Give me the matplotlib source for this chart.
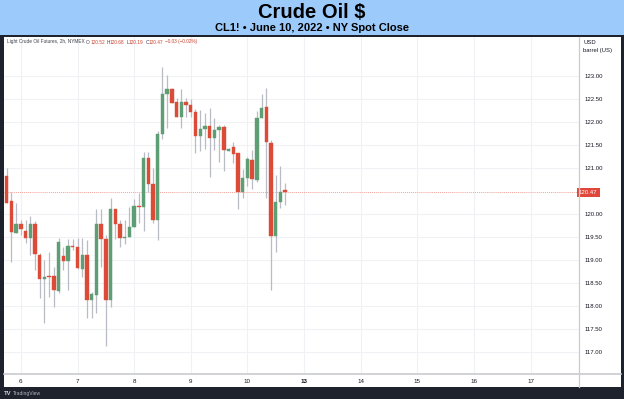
import matplotlib
matplotlib.use("Agg")
import matplotlib.pyplot as plt
from matplotlib.patches import Rectangle
from matplotlib.lines import Line2D
import numpy as np

# ---------------- data ----------------
opens  = [120.83, 120.28, 119.58, 119.78, 119.62, 119.48, 119.78, 119.11, 118.59, 118.64,
          118.65, 118.33, 119.09, 118.98, 119.30, 119.28, 118.81, 119.11, 118.12, 118.24,
          119.78, 119.46, 118.12, 120.11, 119.78, 119.47, 119.51, 119.72, 120.18, 120.16,
          121.21, 120.65, 119.88, 121.75, 122.60, 122.71, 122.43, 122.10, 122.43, 122.38,
          122.22, 121.70, 121.85, 121.92, 121.65, 121.82, 121.89, 121.38, 121.45, 121.32,
          120.48, 120.79, 121.17, 120.74, 122.09, 122.33, 121.54, 119.53, 120.27, 120.52]
highs  = [120.99, 120.48, 120.23, 119.88, 119.87, 119.96, 119.85, 119.15, 119.00, 119.18,
          118.85, 119.47, 119.29, 119.45, 119.45, 119.47, 119.47, 119.43, 118.30, 120.11,
          120.11, 119.54, 120.35, 120.11, 119.88, 119.87, 120.16, 120.32, 120.45, 121.35,
          121.35, 121.01, 121.80, 123.19, 123.02, 122.75, 122.52, 122.71, 122.52, 122.49,
          122.28, 122.26, 122.20, 122.30, 122.08, 121.93, 121.93, 121.43, 121.57, 121.32,
          120.97, 121.23, 121.39, 122.24, 122.61, 122.75, 121.61, 120.85, 121.04, 120.68]
lows   = [120.25, 118.96, 119.58, 119.54, 119.36, 119.11, 118.78, 118.17, 117.62, 118.20,
          117.97, 118.28, 118.78, 118.35, 119.22, 118.80, 118.64, 117.75, 117.73, 117.84,
          118.85, 117.13, 117.97, 119.46, 119.29, 119.35, 119.50, 119.72, 119.80, 119.62,
          120.48, 119.80, 119.43, 121.63, 121.86, 122.41, 122.10, 121.86, 122.10, 122.10,
          121.33, 121.38, 121.41, 120.80, 121.39, 121.14, 120.94, 121.38, 121.10, 120.10,
          120.34, 120.61, 120.54, 120.70, 122.09, 120.34, 118.35, 119.18, 120.12, 120.19]
closes = [120.25, 119.60, 119.78, 119.67, 119.48, 119.78, 119.12, 118.59, 118.64, 118.62,
          118.35, 119.39, 118.97, 119.30, 119.28, 118.82, 119.11, 118.12, 118.26, 119.78,
          119.46, 118.12, 120.11, 119.78, 119.47, 119.51, 119.72, 120.18, 120.15, 121.21,
          120.65, 119.86, 121.74, 122.60, 122.71, 122.41, 122.10, 122.43, 122.38, 122.22,
          121.70, 121.85, 121.92, 121.65, 121.82, 121.89, 121.39, 121.41, 121.30, 120.48,
          120.79, 121.19, 120.76, 122.09, 122.31, 121.56, 119.53, 120.27, 120.48, 120.47]

day_labels = ["6", "7", "8", "9", "10", "13", "14", "15", "16", "17"]
day_bar_index = [3, 15, 27, 39, 51, 63, 75, 87, 99, 111]
price_ticks = [117.0, 117.5, 118.0, 118.5, 119.0, 119.5, 120.0,
               121.0, 121.5, 122.0, 122.5, 123.0]
last_price = 120.47

legend_name = "Light Crude Oil Futures, 2h, NYMEX"
legend_fields = [("O", "120.52"), ("H", "120.68"), ("L", "120.19"), ("C", "120.47")]
legend_change = "\u22120.03 (\u22120.02%)"

title = "Crude Oil $"
subtitle = "CL1! \u2022 June 10, 2022 \u2022 NY Spot Close"

# ---------------- styles ----------------
W, H = 624, 399
UP = "#5d9e74"
DOWN = "#dc4a38"
WICK = "#b9bcc4"
DARK = "#1e222d"
BAND = "#9ccbfb"
FONT = "Liberation Sans"

def fx(x):
    return x / W

def fy(y):
    return 1 - y / H

fig = plt.figure(figsize=(W / 100, H / 100), dpi=100, facecolor=DARK)

# title band
fig.patches.append(Rectangle((0, fy(35)), 1, 1 - fy(35), transform=fig.transFigure,
                             facecolor=BAND, edgecolor="none", zorder=-5))
# white chart panel
fig.patches.append(Rectangle((fx(3.5), fy(387)), fx(620.5) - fx(3.5), fy(36.5) - fy(387),
                             transform=fig.transFigure, facecolor="white",
                             edgecolor="none", zorder=-5))

fig.text(0.5, fy(12), title, ha="center", va="center", fontsize=14.5,
         fontweight="bold", family=FONT, color="black")
fig.text(0.5, fy(28), subtitle, ha="center", va="center", fontsize=8,
         fontweight="bold", family=FONT, color="black")

# plot axes
left, right, top, bottom = 3.5, 579, 37, 373
ax = fig.add_axes([fx(left), fy(bottom), fx(right) - fx(left), fy(top) - fy(bottom)])
ax.set_zorder(1)
ax.set_facecolor("white")

x_step = 4.72
x0_px = 6.7
ax.set_xlim((left - x0_px) / x_step, (right - x0_px) / x_step)
y_per = 46.0
ax.set_ylim(120 + (214 - bottom) / y_per, 120 + (214 - top) / y_per)

idx = np.arange(len(opens))
o = np.array(opens); c = np.array(closes); h = np.array(highs); l = np.array(lows)
up = c >= o
colors = np.where(up, UP, DOWN)
body_bottom = np.minimum(o, c)
body_h = np.maximum(np.abs(c - o), 0.025)

ax.vlines(idx, l, h, color=WICK, linewidth=0.9, zorder=2)
ax.bar(idx, body_h, bottom=body_bottom, width=0.72, color=colors,
       edgecolor=colors, linewidth=0.3, zorder=3)

# last price line
ax.axhline(last_price, color="#f3a29a", linewidth=0.7, linestyle=(0, (1, 1)), zorder=1)

# grid & ticks
ax.set_yticks(price_ticks)
ax.set_yticklabels([f"{p:.2f}" for p in price_ticks])
ax.yaxis.tick_right()
ax.set_xticks(day_bar_index)
ax.set_xticklabels(day_labels)
ax.tick_params(axis="y", length=0, pad=4, labelsize=4.3, labelcolor="#131722")
ax.tick_params(axis="x", length=0, pad=4.2, labelsize=4.5, labelcolor="#131722")
for lab in ax.get_xticklabels():
    lab.set_family(FONT)
    if lab.get_text() == "13":
        lab.set_fontweight("semibold")
for lab in ax.get_yticklabels():
    lab.set_family(FONT)
ax.grid(True, color="#f0f1f4", linewidth=0.8, zorder=0)
ax.set_axisbelow(True)
for s in ax.spines.values():
    s.set_visible(False)

# separators
fig.add_artist(Line2D([fx(579), fx(579)], [fy(387), fy(37)], color="#c9cbcf",
                      linewidth=0.9, transform=fig.transFigure, zorder=2))
fig.add_artist(Line2D([fx(3.5), fx(620.5)], [fy(373.5), fy(373.5)], color="#c9cbcf",
                      linewidth=1.2, transform=fig.transFigure, zorder=2))

# last price tag
ax.text(1.0, last_price, f"{last_price:.2f}", transform=ax.get_yaxis_transform(),
        ha="left", va="center", fontsize=4.3, color="white", family=FONT,
        clip_on=False, zorder=10,
        bbox=dict(boxstyle="square,pad=0.35", facecolor="#e0473a", edgecolor="none"))

# units
fig.text(fx(583), fy(42), "USD", ha="left", va="center", fontsize=4.2,
         color="#131722", family=FONT, zorder=3)
fig.text(fx(583), fy(50.5), "barrel (US)", ha="left", va="center", fontsize=4.2,
         color="#131722", family=FONT, zorder=3)

# legend line (drawn consecutively)
fig.canvas.draw()
renderer = fig.canvas.get_renderer()
cur_x = 7.0
ly = fy(42)

def put(txt, color, gap=0.0):
    global cur_x
    t = fig.text(fx(cur_x), ly, txt, ha="left", va="center", fontsize=3.45,
                 color=color, family=FONT, zorder=3)
    bb = t.get_window_extent(renderer=renderer)
    cur_x += bb.width + gap

put(legend_name, "#3a3e4a", gap=1.6)
for k, v in legend_fields:
    put(k, "#3a3e4a", gap=0.2)
    put(v, "#c9402f", gap=1.6)
put(legend_change, "#c9402f")

# footer logo
fig.text(fx(4), fy(393.5), "TV", ha="left", va="center", fontsize=4.2,
         fontweight="bold", color="#d1d4dc", family=FONT)
fig.text(fx(13), fy(393.5), "TradingView", ha="left", va="center", fontsize=3.6,
         color="#b2b5be", family=FONT)

fig.savefig("out.png", dpi=100, facecolor=fig.get_facecolor())
